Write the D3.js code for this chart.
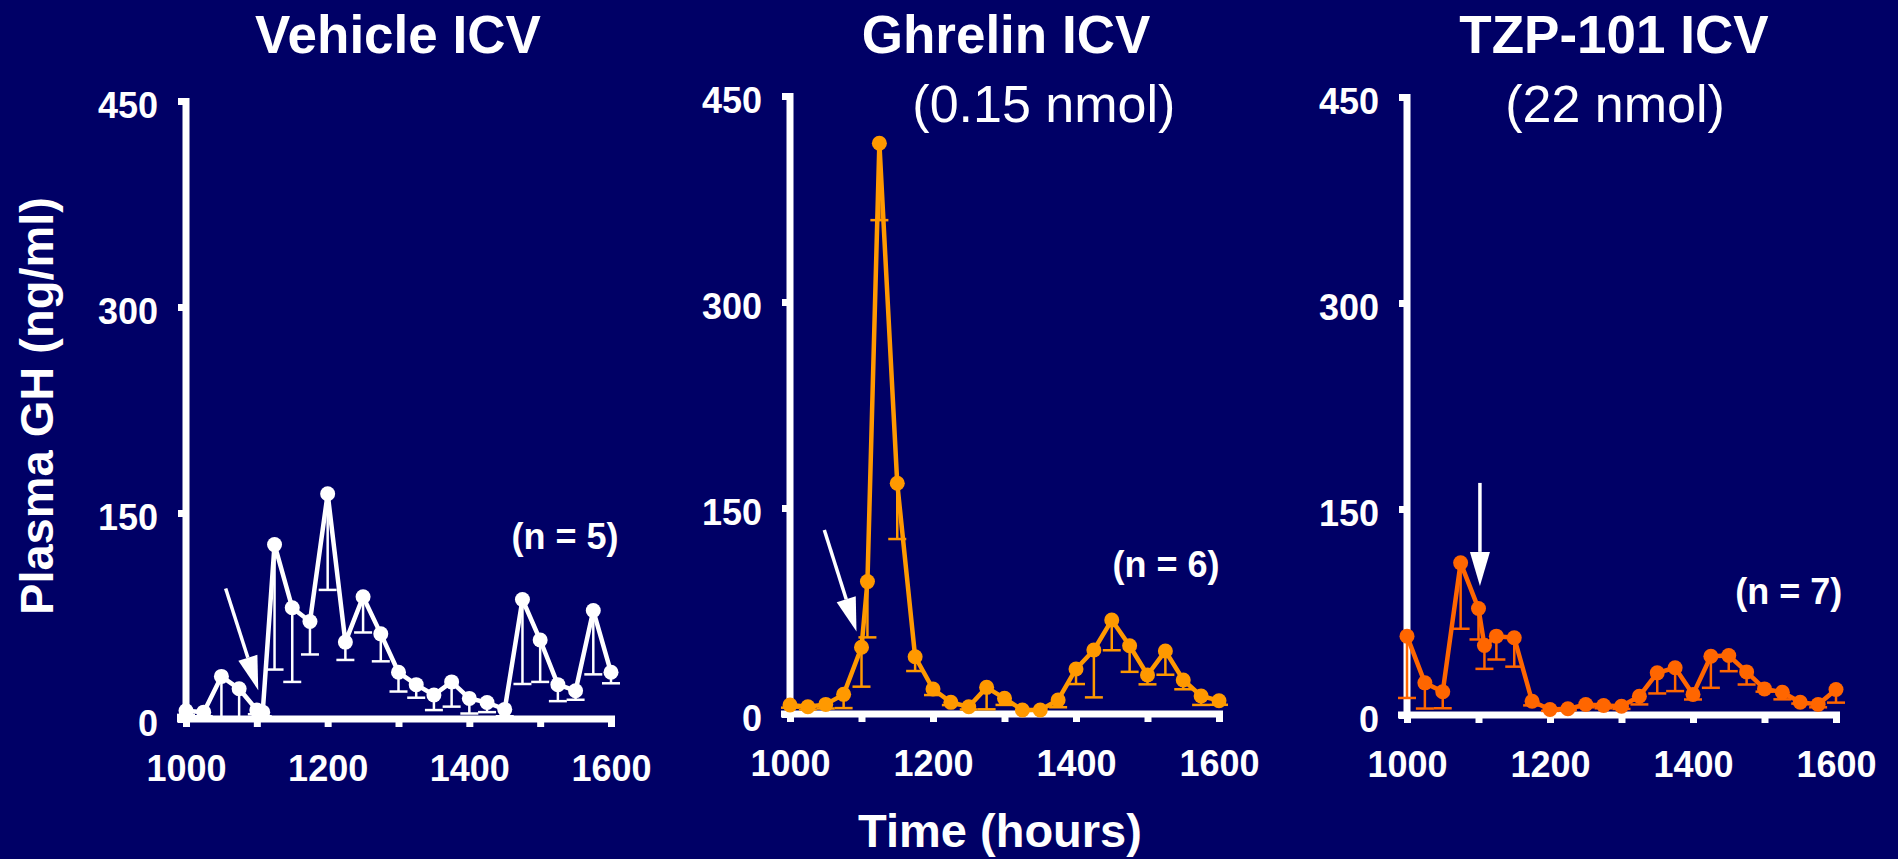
<!DOCTYPE html>
<html>
<head>
<meta charset="utf-8">
<script src="https://cdn.jsdelivr.net/npm/d3@7"></script>
<style>
  body { margin: 0; background: #000066; }
  svg { display: block; }
  text { font-family: "Liberation Sans", Arial, sans-serif; fill: #fff; }
</style>
</head>
<body>
<div id="chart"></div>
<script>
// sampling times (1100 = 11:00, 11:05 sample plotted at 1108.3)
let times = [1000, 1025, 1050, 1075, 1100, 1108.3, 1125, 1150, 1175, 1200, 1225, 1250, 1275,
    1300, 1325, 1350, 1375, 1400, 1425, 1450, 1475, 1500, 1525, 1550, 1575, 1600];
let xTicks = [1000, 1100, 1200, 1300, 1400, 1500, 1600];
let xTickLabels = ['1000', '', '1200', '', '1400', '', '1600'];
let yTicks = [0, 150, 300, 450];

let titles = ['Vehicle ICV', 'Ghrelin ICV', 'TZP-101 ICV'];
let subtitles = ['', '(0.15 nmol)', '(22 nmol)'];
let nLabels = ['(n = 5)', '(n = 6)', '(n = 7)'];

// mean GH (ng/ml) and SEM
let vehicleMean = [6, 5, 31, 22, 6.5, 5, 127, 81, 71, 164, 56, 89, 62, 34, 25, 17.5, 27, 15, 12, 7, 87, 57.5, 25, 20.6, 79, 34];
let vehicleSem = [3, 3, 30, 21, 3, 3, 91, 54, 24, 70, 13, 26, 20, 14, 9.5, 11, 18, 11, 7, 5, 61.5, 30.5, 12, 6.6, 46.5, 8];
let ghrelinMean = [6.6, 5.3, 7, 14.3, 48.6, 96.4, 415.6, 168, 41.7, 18.2, 8.5, 5.3, 19.4, 11.4, 2.9, 2.9, 10.2, 32.8, 46.6, 68.4, 49.7, 28.4, 45.9, 24.8, 13.1, 9.7];
let ghrelinSem = [2, 2, 3, 10, 28.7, 40.6, 56, 40.6, 10.4, 4.4, 2, 2, 16, 4.8, 0, 0, 5.3, 11, 34.5, 22, 19, 6.8, 17.3, 6.8, 6.5, 3];
let tzpMean = [57.4, 23.4, 16.9, 110.8, 77.5, 50.6, 57.4, 56.2, 10, 4, 4.5, 7.6, 6.9, 6.4, 13.7, 30.7, 34.4, 15, 42.8, 43.3, 31.4, 19, 16.6, 9.3, 7.6, 18.6];
let tzpSem = [45, 18.7, 12, 48, 22.5, 17, 17, 21, 3, 1, 1, 2, 2, 2, 6, 15, 17, 3.7, 23, 11.4, 9.2, 2, 5.2, 1, 2, 9.6];

// injection arrows: [time, value] from -> to
let arrowFrom = [[1056, 95], [1048, 134], [1102, 169]];
let arrowTo = [[1102, 21], [1093, 60], [1102, 94]];

let colors = ['#ffffff', '#ff9900', '#ff6600'];

// panel frames (pixels)
let frames = [
    {x0: 186, x1: 611, y0: 719, yTop: 101},
    {x0: 790, x1: 1219, y0: 714, yTop: 96},
    {x0: 1407, x1: 1836, y0: 715, yTop: 97}
];
let titleX = [398, 1006, 1614];
let subPos = [null, [1355, 431], [1291, 432]]; // data coords of subtitle centre/baseline
let nPos = [[1535, 124], [1526, 100], [1534, 81]];

let W = 1898, H = 859;
let axisW = 7;

let svg = d3.select('#chart').append('svg')
    .attr('width', W)
    .attr('height', H);
svg.append('rect').attr('width', W).attr('height', H).attr('fill', '#000066');

let means = [vehicleMean, ghrelinMean, tzpMean];
let sems = [vehicleSem, ghrelinSem, tzpSem];

function drawPanel(i) {
    let f = frames[i];
    let color = colors[i];
    let x = d3.scaleLinear().domain([1000, 1600]).range([f.x0, f.x1]);
    let y = d3.scaleLinear().domain([0, 450]).range([f.y0, f.yTop]);
    let g = svg.append('g');
    let pts = times.map((t, k) => ({t: t, v: means[i][k], e: sems[i][k]}));

    // 标题
    svg.append('text').text(titles[i])
        .attr('x', titleX[i]).attr('y', 53)
        .attr('text-anchor', 'middle')
        .style('font-size', '53px').style('font-weight', 'bold');
    if (subPos[i]) {
        g.append('text').text(subtitles[i])
            .attr('x', x(subPos[i][0])).attr('y', y(subPos[i][1]))
            .attr('text-anchor', 'middle')
            .style('font-size', '52px');
    }

    // y axis
    let yAxis = g.append('g')
        .attr('transform', `translate(${f.x0},0)`)
        .call(d3.axisLeft(y).tickValues(yTicks).tickSize(8).tickSizeOuter(0));
    yAxis.select('.domain').remove();
    yAxis.selectAll('line').attr('stroke', '#fff').attr('stroke-width', axisW);
    yAxis.selectAll('text')
        .attr('x', -28).attr('dy', '0.45em')
        .style('font-size', '36px').style('font-weight', 'bold')
        .attr('fill', '#fff');

    // x axis
    let xAxis = g.append('g')
        .attr('transform', `translate(0,${f.y0})`)
        .call(d3.axisBottom(x).tickValues(xTicks).tickSize(8).tickSizeOuter(0)
            .tickFormat((d, k) => xTickLabels[k]));
    xAxis.select('.domain').remove();
    xAxis.selectAll('line').attr('stroke', '#fff').attr('stroke-width', axisW);
    xAxis.selectAll('text')
        .attr('y', 62).attr('dy', 0)
        .style('font-size', '36px').style('font-weight', 'bold')
        .attr('fill', '#fff');

    // 坐标轴线
    g.append('line')
        .attr('x1', f.x0).attr('x2', f.x0)
        .attr('y1', f.y0 + axisW / 2).attr('y2', y(450) - 3)
        .attr('stroke', '#fff').attr('stroke-width', axisW);
    g.append('line')
        .attr('x1', f.x0 - 9).attr('x2', x(1600) + 4)
        .attr('y1', f.y0).attr('y2', f.y0)
        .attr('stroke', '#fff').attr('stroke-width', axisW);

    // error bars (lower half, capped)
    let eb = g.append('g').attr('stroke', color).attr('stroke-width', 2.5);
    pts.filter(d => d.e > 0).forEach(d => {
        let lo = Math.max(d.v - d.e, 0);
        eb.append('line')
            .attr('x1', x(d.t)).attr('x2', x(d.t))
            .attr('y1', y(d.v)).attr('y2', y(lo));
        eb.append('line')
            .attr('x1', x(d.t) - 9).attr('x2', x(d.t) + 9)
            .attr('y1', y(lo)).attr('y2', y(lo));
    });

    let line = d3.line().x(d => x(d.t)).y(d => y(d.v));
    g.append('path')
        .attr('d', line(pts))
        .attr('fill', 'none')
        .attr('stroke', color)
        .attr('stroke-width', 4.5)
        .attr('stroke-linejoin', 'round');
    g.selectAll('circle.pt').data(pts).enter().append('circle')
        .attr('class', 'pt')
        .attr('cx', d => x(d.t)).attr('cy', d => y(d.v))
        .attr('r', 7.5)
        .attr('fill', color);

    // injection arrow
    let ax1 = x(arrowFrom[i][0]), ay1 = y(arrowFrom[i][1]);
    let ax2 = x(arrowTo[i][0]), ay2 = y(arrowTo[i][1]);
    let len = Math.hypot(ax2 - ax1, ay2 - ay1);
    let ux = (ax2 - ax1) / len, uy = (ay2 - ay1) / len;
    let headL = 34, headW = 10;
    let bx = ax2 - ux * headL, by = ay2 - uy * headL;
    g.append('line')
        .attr('x1', ax1).attr('y1', ay1).attr('x2', bx).attr('y2', by)
        .attr('stroke', '#fff').attr('stroke-width', 3.5);
    g.append('path')
        .attr('d', `M${ax2},${ay2}L${bx - uy * headW},${by + ux * headW}L${bx + uy * headW},${by - ux * headW}Z`)
        .attr('fill', '#fff');

    // n 标注
    g.append('text').text(nLabels[i])
        .attr('x', x(nPos[i][0])).attr('y', y(nPos[i][1]))
        .attr('text-anchor', 'middle')
        .style('font-size', '36px').style('font-weight', 'bold');
}

for (let i = 0; i < 3; i++) {
    drawPanel(i);
}

// 轴标题
svg.append('text').text('Time (hours)')
    .attr('x', 1000).attr('y', 847)
    .attr('text-anchor', 'middle')
    .style('font-size', '47px').style('font-weight', 'bold');
svg.append('text').text('Plasma GH (ng/ml)')
    .attr('transform', 'translate(53,406) rotate(-90)')
    .attr('text-anchor', 'middle')
    .style('font-size', '47px').style('font-weight', 'bold');
</script>
</body>
</html>
